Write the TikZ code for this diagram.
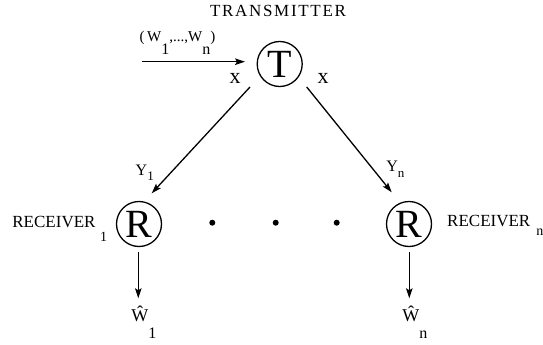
\documentclass[tikz,border=0pt]{standalone}
\usepackage{fontspec}
\setmainfont{Liberation Serif}
\usetikzlibrary{arrows.meta}
\tikzset{
  conn/.style={line width=1.3pt,-{Stealth[length=10pt,width=6.5pt,inset=2pt]}},
  ring/.style={circle,draw,line width=1.3pt,minimum size=45pt,inner sep=0pt,font=\fontsize{40}{40}\selectfont},
  lbl/.style={inner sep=0pt,anchor=base west,font=\fontsize{17}{17}\selectfont},
  dotmark/.style={circle,fill=black,inner sep=0pt,minimum size=6pt}
}
\begin{document}
\begin{tikzpicture}[x=1pt,y=-1pt]
\useasboundingbox[fill=white] (0,0) rectangle (543,345);
% title
\node[inner sep=0pt,anchor=base,font=\fontsize{17}{17}\selectfont\addfontfeatures{LetterSpace=10}] (title) at (278,16.7) {TRANSMITTER};
% nodes
\node[ring] (T) at (279.7,64) {T};
\node[ring] (R1) at (139,224) {R};
\node[ring] (Rn) at (409,224) {R};
\node[dotmark] (d1) at (212.3,222.7) {};
\node[dotmark] (d2) at (275.7,222.7) {};
\node[dotmark] (d3) at (336.7,222.7) {};
% connector end points
\coordinate (in) at (141.7,61.7);
\coordinate (inT) at (245,61.7);
\coordinate (Tl) at (250,87);
\coordinate (R1t) at (151.7,193.3);
\coordinate (Tr) at (306.7,87);
\coordinate (Rnt) at (391.7,192.3);
\coordinate (R1b) at (138.3,251.7);
\coordinate (o1) at (138.3,298.3);
\coordinate (Rnb) at (409.3,251.7);
\coordinate (on) at (409.3,298.3);
% connectors
\draw[conn] (in) -- (inT);
\draw[conn] (Tl) -- (R1t);
\draw[conn] (Tr) -- (Rnt);
\draw[conn] (R1b) -- (o1);
\draw[conn] (Rnb) -- (on);
% labels
\node[lbl,font=\fontsize{15}{15}\selectfont] (wlab) at (139.5,41.7)
  {(\,W\raisebox{-13.3pt}{\fontsize{16}{16}\selectfont 1},...,W\raisebox{-13.3pt}{\fontsize{16}{16}\selectfont n})};
\node[lbl,font=\fontsize{22}{22}\selectfont] (xl) at (229.5,83.3) {x};
\node[lbl,font=\fontsize{22}{22}\selectfont] (xr) at (317.5,83.3) {x};
\node[lbl,font=\fontsize{16}{16}\selectfont] (y1) at (135.5,175) {Y\raisebox{-5pt}{\fontsize{13}{13}\selectfont 1}};
\node[lbl,font=\fontsize{16}{16}\selectfont] (yn) at (386.2,171.7) {Y\raisebox{-5.3pt}{\fontsize{13}{13}\selectfont n}};
\node[lbl] (rc1) at (12.2,227.3) {RECEIVER\hspace{4.5pt}\raisebox{-13.7pt}{\fontsize{14}{14}\selectfont 1}};
\node[lbl] (rcn) at (447,226.7) {RECEIVER\hspace{6pt}\raisebox{-8.5pt}{\fontsize{14}{14}\selectfont n}};
\node[lbl,font=\fontsize{18}{18}\selectfont] (w1) at (131.2,321.7) {\^{W}\raisebox{-16.3pt}{\fontsize{16}{16}\selectfont 1}};
\node[lbl,font=\fontsize{18}{18}\selectfont] (wn) at (402.2,321.7) {\^{W}\raisebox{-16.3pt}{\fontsize{16}{16}\selectfont n}};
\end{tikzpicture}
\end{document}
